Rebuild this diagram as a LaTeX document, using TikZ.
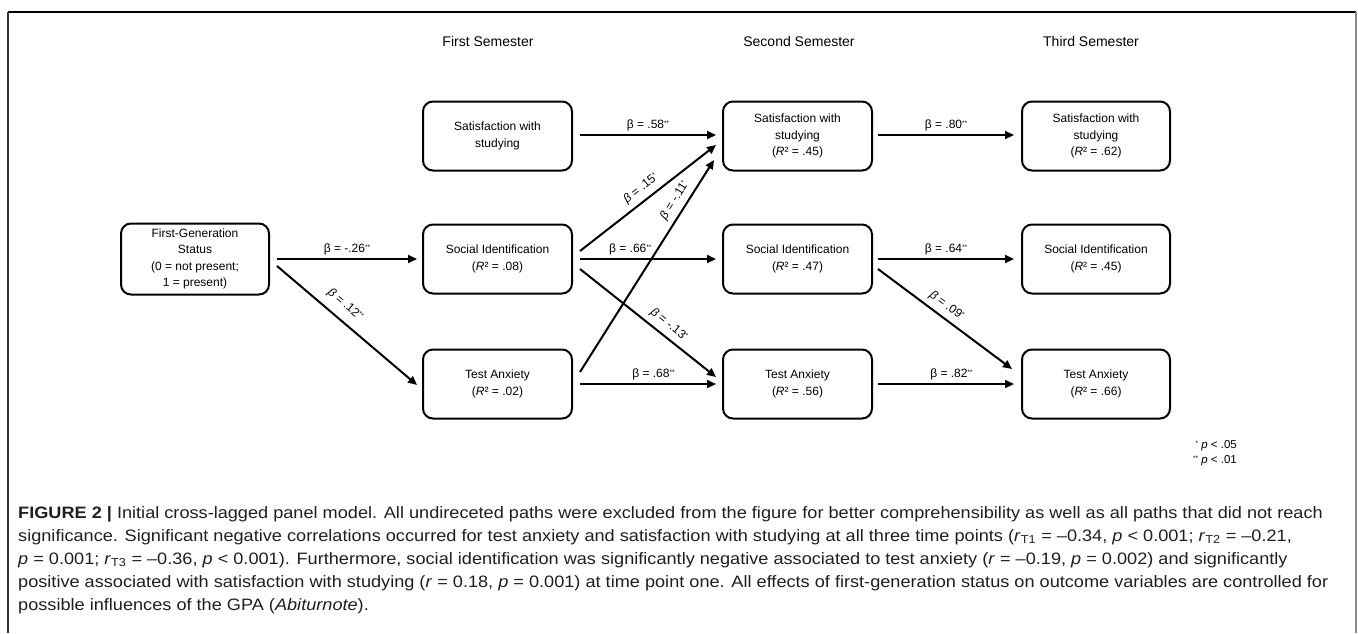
\documentclass[tikz,border=0pt]{standalone}
\usepackage{fontspec}
\setmainfont{Liberation Sans}
\usepackage{graphicx}
\usetikzlibrary{arrows.meta,calc}

\newsavebox{\capbox}
% small raised significance stars
\newcommand{\sig}[1]{\raisebox{0.55ex}{\fontsize{6.5}{6.5}\selectfont #1}}

\begin{document}
\begin{tikzpicture}[x=1pt,y=-1pt,
  box/.style={draw=black, line width=2pt, rounded corners=10pt,
    minimum width=149pt, minimum height=69pt, align=center,
    font=\fontsize{12}{16.5}\selectfont, inner sep=2pt},
  link/.style={line width=2pt, -{Triangle[length=9pt,width=8pt]}},
  coef/.style={font=\fontsize{12}{14}\selectfont, inner sep=3pt, above},
  scoef/.style={coef, sloped},
  head/.style={font=\fontsize{14}{16}\selectfont}]

\useasboundingbox (0,0) rectangle (1358,633);

% frame
\draw[line width=1.5pt] (8,12) -- (1356,12);
\draw[line width=1.2pt, black!80] (8,12) -- (8,633);
\draw[line width=1.6pt, black!45] (1356,12) -- (1356,633);

% column headings
\node[head] (h1) at (488,41) {First Semester};
\node[head] (h2) at (799,41) {Second Semester};
\node[head] (h3) at (1091,41) {Third Semester};

% boxes
\node[box, minimum width=148pt, minimum height=71pt] (fg) at (195,259)
  {First-Generation\\Status\\(0 = not present;\\1 = present)};

\node[box] (s1) at (497.5,136) {Satisfaction with\\studying};
\node[box] (i1) at (497.5,259) {Social Identification\\(\textit{R}² = .08)};
\node[box] (a1) at (497.5,384) {Test Anxiety\\(\textit{R}² = .02)};

\node[box] (s2) at (797.5,136) {Satisfaction with\\studying\\(\textit{R}² = .45)};
\node[box] (i2) at (797.5,259) {Social Identification\\(\textit{R}² = .47)};
\node[box] (a2) at (797.5,384) {Test Anxiety\\(\textit{R}² = .56)};

\node[box, minimum width=148pt] (s3) at (1096,136) {Satisfaction with\\studying\\(\textit{R}² = .62)};
\node[box, minimum width=148pt] (i3) at (1096,259) {Social Identification\\(\textit{R}² = .45)};
\node[box, minimum width=148pt] (a3) at (1096,384) {Test Anxiety\\(\textit{R}² = .66)};

% paths from first-generation status
\draw[link] ($(fg.east)+(7,0)$) -- ($(i1.west)+(-5,0)$)
  node[coef, midway] {β = -.26\sig{**}};
\draw[link] ($(fg.east)+(7,7)$) -- ($(a1.west)+(-5,1)$)
  node[scoef, pos=0.42, above=5pt] {\textit{β} = .12\sig{**}};

% first to second semester
\draw[link] ($(s1.east)+(7,-1)$) -- ($(s2.west)+(-6,-1)$)
  node[coef, midway] {β = .58\sig{**}};
\draw[link] ($(i1.east)+(7,-8)$) -- ($(s2.west)+(-6,9)$)
  node[scoef, pos=0.5, above=2pt] {\textit{β} = .15\sig{*}};
\draw[link] ($(a1.east)+(7,-12)$) -- ($(s2.west)+(-8,24)$)
  node[scoef, pos=0.78, above=2pt] {\textit{β} = -.11\sig{*}};
\draw[link] ($(i1.east)+(7,0)$) -- ($(i2.west)+(-6,0)$)
  node[coef, pos=0.37] {β = .66\sig{**}};
\draw[link] ($(i1.east)+(7,10)$) -- ($(a2.west)+(-6,-7)$)
  node[scoef, pos=0.6, above=2pt] {\textit{β} = -.13\sig{*}};
\draw[link] ($(a1.east)+(7,0)$) -- ($(a2.west)+(-6,0)$)
  node[coef, pos=0.54] {β = .68\sig{**}};

% second to third semester
\draw[link] ($(s2.east)+(5,-1)$) -- ($(s3.west)+(-7,-1)$)
  node[coef, midway] {β = .80\sig{**}};
\draw[link] ($(i2.east)+(5,0)$) -- ($(i3.west)+(-7,0)$)
  node[coef, midway] {β = .64\sig{**}};
\draw[link] ($(i2.east)+(5,10)$) -- ($(a3.west)+(-9,-15)$)
  node[scoef, pos=0.46, above=2pt] {\textit{β} = .09\sig{*}};
\draw[link] ($(a2.east)+(5,0)$) -- ($(a3.west)+(-7,0)$)
  node[coef, pos=0.54] {β = .82\sig{**}};

% significance legend
\node[anchor=east, inner sep=0, font=\fontsize{11.5}{13}\selectfont] (n1) at (1237,446)
  {\sig{*} \textit{p} < .05};
\node[anchor=east, inner sep=0, font=\fontsize{11.5}{13}\selectfont] (n2) at (1237,461)
  {\sig{**} \textit{p} < .01};

% caption, narrowed so its first line spans the frame
\node[anchor=north west, inner sep=0] (cap) at (18,502) {%
\sbox{\capbox}{\fontsize{16.5}{23}\selectfont\color{black!88}%
\begin{tabular}{@{}l@{}}
\textbf{FIGURE 2 |} Initial cross-lagged panel model. All undireceted paths were excluded from the figure for better comprehensibility as well as all paths that did not reach\\
significance. Significant negative correlations occurred for test anxiety and satisfaction with studying at all three time points (\textit{r}\textsubscript{T1} = –0.34, \textit{p} < 0.001; \textit{r}\textsubscript{T2} = –0.21,\\
\textit{p} = 0.001; \textit{r}\textsubscript{T3} = –0.36, \textit{p} < 0.001). Furthermore, social identification was significantly negative associated to test anxiety (\textit{r} = –0.19, \textit{p} = 0.002) and significantly\\
positive associated with satisfaction with studying (\textit{r} = 0.18, \textit{p} = 0.001) at time point one. All effects of first-generation status on outcome variables are controlled for\\
possible influences of the GPA (\textit{Abiturnote}).
\end{tabular}}%
\pgfmathsetmacro{\capsx}{1310/\wd\capbox}%
\scalebox{\capsx}[1]{\usebox{\capbox}}};

\end{tikzpicture}
\end{document}
